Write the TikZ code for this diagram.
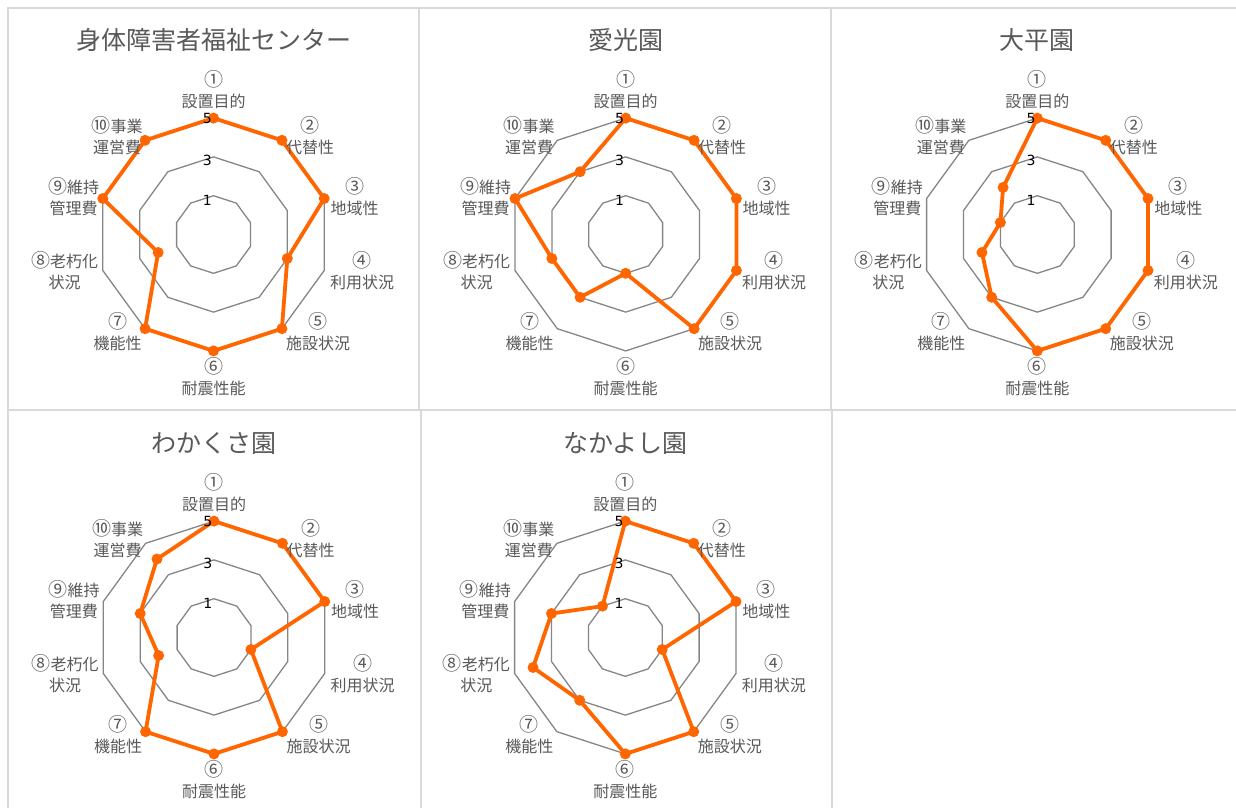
\documentclass[tikz,border=0pt]{standalone}
\usepackage{fontspec}
\setmainfont{Noto Sans CJK JP}
\newfontfamily\tickfont{DejaVu Sans}
\newcommand{\cnum}[1]{{\fontsize{19}{21}\selectfont #1}}
\definecolor{gridgray}{HTML}{868686}
\definecolor{boxgray}{HTML}{D9D9D9}
\definecolor{txtgray}{HTML}{595959}
\definecolor{dataorange}{HTML}{FF6600}
\tikzset{
  gridline/.style={draw=gridgray, line width=1.3pt, line join=miter},
  dataline/.style={draw=dataorange, line width=3.8pt, line join=round},
  marker/.style={circle, fill=dataorange, inner sep=0pt, minimum size=11pt},
  lbl/.style={text=txtgray, font=\fontsize{16}{21}\selectfont, align=center, inner sep=0pt},
  titletext/.style={text=txtgray, font=\fontsize{25}{28}\selectfont, inner sep=0pt},
  ticktext/.style={text=black, font=\tickfont\fontsize{14}{14}\selectfont, inner sep=0pt, anchor=east},
  boxline/.style={draw=boxgray, line width=1.5pt}
}
% #1 id, #2 cx, #3 cy, #4 title, #5 ten values
\newcommand{\radarchart}[5]{%
\begin{scope}[shift={(#2,#3)}]
  \node[titletext] (#1-title) at (0,-194.5) {#4};
  \foreach \rr in {38.8,77.6,116.4}{%
    \draw[gridline] (0,-\rr) \foreach \k in {1,...,9}{ -- ({\rr*cos(-90+36*\k)},{\rr*sin(-90+36*\k)})} -- cycle;
  }
  \foreach \v [count=\k from 0] in {#5}{%
    \coordinate (#1-p\k) at ({19.4*(\v+1)*cos(-90+36*\k)},{19.4*(\v+1)*sin(-90+36*\k)});
  }
  \draw[dataline] (#1-p0) \foreach \k in {1,...,9}{ -- (#1-p\k)} -- cycle;
  \foreach \k in {0,...,9}{ \node[marker] (#1-m\k) at (#1-p\k) {}; }
  \node[lbl] (#1-l1) at (0,-145) {\cnum{①}\\設置目的};
  \node[lbl] (#1-l2) at (96.5,-99) {\cnum{②}\\代替性};
  \node[lbl] (#1-l3) at (141,-38) {\cnum{③}\\地域性};
  \node[lbl] (#1-l4) at (148.5,36.5) {\cnum{④}\\利用状況};
  \node[lbl] (#1-l5) at (104.5,97) {\cnum{⑤}\\施設状況};
  \node[lbl] (#1-l6) at (0,142.5) {\cnum{⑥}\\耐震性能};
  \node[lbl] (#1-l7) at (-96,97) {\cnum{⑦}\\機能性};
  \node[lbl] (#1-l8) at (-149,36.5) {\cnum{⑧}老朽化\\状況};
  \node[lbl] (#1-l9) at (-140,-38) {\cnum{⑨}維持\\管理費};
  \node[lbl] (#1-l10) at (-96.5,-99) {\cnum{⑩}事業\\運営費};
  \node[ticktext] (#1-t5) at (-1.5,-116.2) {5};
  \node[ticktext] (#1-t3) at (-1.5,-74.5) {3};
  \node[ticktext] (#1-t1) at (-1.5,-34.5) {1};
\end{scope}}
\begin{document}
\begin{tikzpicture}[x=1pt,y=-1pt]
\useasboundingbox (0,0) rectangle (1236,807);
\fill[white] (0,0) rectangle (1236,807);
\clip (0,0) rectangle (1236,807);
\draw[boxline] (8,8) rectangle (419,410);
\draw[boxline] (419,8) rectangle (831,410);
\draw[boxline] (831,8) rectangle (1245,410);
\draw[boxline] (8,410) rectangle (421,815);
\draw[boxline] (421,410) rectangle (832,815);
\draw[boxline] (832,410) -- (1245,410);
\radarchart{c1}{213.5}{234.5}{身体障害者福祉センター}{5,5,5,3,5,5,5,2,5,5}
\radarchart{c2}{625.7}{234.5}{愛光園}{5,5,5,5,5,1,3,3,5,3}
\radarchart{c3}{1037.3}{234.5}{大平園}{5,5,5,5,5,5,3,2,1,2}
\radarchart{c4}{214}{637.5}{わかくさ園}{5,5,5,1,5,5,5,2,3,4}
\radarchart{c5}{625.3}{637.5}{なかよし園}{5,5,5,1,5,5,3,4,3,1}
\end{tikzpicture}
\end{document}
